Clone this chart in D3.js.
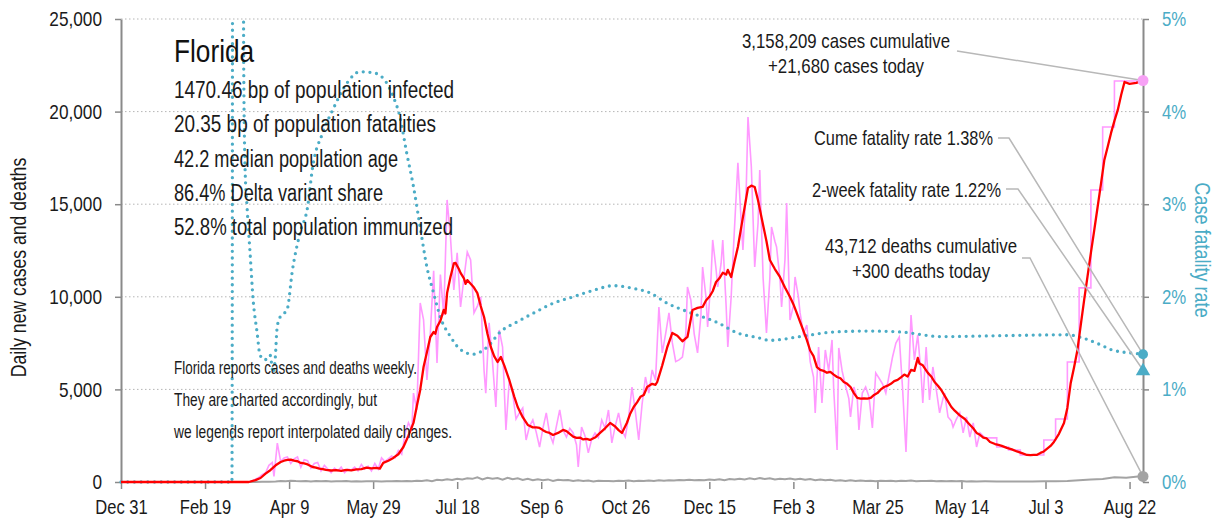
<!DOCTYPE html>
<html>
<head>
<meta charset="utf-8">
<script src="https://cdn.jsdelivr.net/npm/d3@7"></script>
<style>
body { margin: 0; background: #fff; }
svg text { font-family: "Liberation Sans", Arial, sans-serif; }
</style>
</head>
<body>
<svg width="1214" height="523"></svg>
<script>
// days are counted from Dec 31 2019
var t0 = Date.UTC(2019, 11, 31);
function day(d) { return new Date(t0 + d * 864e5); }

var tickDates = ["2019-12-31", "2020-02-19", "2020-04-09", "2020-05-29", "2020-07-18", "2020-09-06",
	"2020-10-26", "2020-12-15", "2021-02-03", "2021-03-25", "2021-05-14", "2021-07-03", "2021-08-22"];
var caseTicks = [0, 5000, 10000, 15000, 20000, 25000];
var cfrTicks = [0, 0.01, 0.02, 0.03, 0.04, 0.05];
var lastDay = 608;

// daily new cases (reported daily until late May 2021)
var casesDaily = [[0,0],[48,0],[76,0],[78,60],[80,150],[82,250],[84,400],[86,500],[88,900],[90,1050],[91,300],[93,2100],[95,1100],[97,1300],[99,1350],[101,1000],[103,1250],[105,1350],[107,800],[109,1200],[111,1150],[113,750],[115,1000],[117,1050],[119,600],[121,900],[123,700],[125,500],[127,750],[129,600],[131,800],[133,500],[135,700],[137,650],[139,800],[141,600],[143,950],[145,700],[147,850],[149,600],[151,1000],[153,700],[155,1300],[157,1100],[159,1250],[161,1400],[163,1300],[165,1700],[167,1500],[169,2600],[171,3200],[173,2800],[174,4800],[176,3900],[178,9670],[180,8750],[182,5510],[184,8000],[186,11400],[188,6430],[190,11200],[192,9000],[194,15230],[196,13230],[198,10370],[200,12370],[202,9450],[204,11000],[206,12420],[208,11990],[210,9130],[212,9500],[214,9990],[216,6000],[217,4800],[219,8590],[221,6500],[223,4050],[225,8210],[227,7290],[229,2810],[231,5500],[233,4800],[235,3400],[237,3730],[239,4000],[241,2270],[243,3000],[245,3350],[247,2700],[249,1890],[251,2900],[253,3730],[255,2600],[257,2110],[259,3000],[261,3890],[263,2800],[265,2430],[267,2900],[269,2650],[271,2000],[272,810],[274,2970],[276,2500],[278,1570],[280,2300],[282,2650],[284,2400],[286,3350],[288,2900],[290,3890],[292,2110],[294,3000],[296,3730],[298,2800],[300,2430],[302,3500],[304,5130],[306,3800],[308,2270],[310,4200],[312,5670],[314,4800],[316,6050],[318,5500],[320,9450],[322,6970],[324,8000],[326,9130],[328,7510],[330,6500],[332,6590],[334,6750],[336,8000],[337,10530],[339,9830],[341,8000],[343,6970],[345,9000],[346,11610],[348,10000],[349,8370],[351,11000],[352,13070],[354,11500],[355,10530],[357,11800],[358,13070],[360,9500],[361,7290],[363,10000],[364,11990],[366,15500],[367,17230],[369,14000],[370,12530],[372,16000],[373,19710],[375,17010],[377,11610],[379,14000],[380,16850],[382,11000],[384,8050],[386,11000],[387,13770],[389,13000],[390,12690],[392,11000],[393,9450],[395,12000],[396,15070],[398,8750],[400,9500],[401,11070],[403,10000],[404,9130],[406,8000],[408,8480],[410,6500],[412,5670],[413,3730],[415,7290],[417,4270],[419,7130],[421,6000],[423,7670],[424,5000],[426,1730],[427,7240],[429,6000],[431,5200],[433,4500],[434,3510],[436,5130],[438,4500],[439,2810],[441,4800],[443,5130],[445,4600],[447,2920],[449,5890],[451,5600],[453,5300],[455,4800],[457,5780],[459,6750],[461,7500],[463,7830],[465,5000],[467,1620],[470,9020],[472,6590],[474,7940],[476,5800],[477,4270],[479,7290],[481,4430],[483,6210],[485,5000],[487,3730],[489,4500],[490,4800],[492,3510],[494,3300],[495,2970],[497,3400],[499,3730],[501,2650],[503,3510],[505,2430],[507,3190],[509,1890],[511,2650],[514,2380]];

// weekly reporting, spread evenly over each week
var casesWeekly = [[514,2380],[521,1890],[528,1730],[535,1460],[542,1460],[549,2270],[556,3400],[563,6480],[570,10480],[577,15770],[584,19170],[591,21650],[598,21650],[605,21650],[608,21650]];

// 7-day average of new cases
var casesAvg = [[0,0],[48,0],[76,0],[80,100],[83,216],[86,450],[89,650],[92,900],[95,1080],[97,1150],[99,1190],[101,1210],[103,1150],[105,1120],[107,1030],[109,1000],[111,950],[114,810],[116,780],[118,720],[120,700],[122,650],[125,620],[128,640],[131,600],[134,650],[137,630],[140,680],[143,700],[146,780],[149,740],[152,760],[154,720],[156,1030],[159,1150],[162,1300],[165,1500],[168,1890],[171,2500],[174,3190],[176,4100],[178,4970],[180,6210],[182,7000],[184,7830],[186,8100],[187,8000],[188,8370],[190,8700],[192,9290],[193,9100],[194,10200],[196,11070],[198,11800],[199,11830],[201,11500],[202,11290],[204,11000],[205,10700],[206,10900],[208,10700],[210,10500],[212,10200],[214,9500],[216,8910],[218,8000],[220,7290],[222,6800],[224,6480],[226,6750],[228,6300],[231,5510],[234,4600],[236,4050],[239,3500],[242,3080],[245,2950],[247,2950],[249,2920],[251,2800],[253,2700],[255,2650],[257,2540],[260,2650],[263,2810],[265,2750],[267,2600],[269,2450],[271,2380],[273,2400],[275,2300],[277,2330],[279,2270],[282,2400],[285,2650],[288,2900],[291,3190],[294,3000],[296,2800],[298,2650],[301,3200],[303,3700],[305,4050],[307,4300],[309,4600],[311,4700],[313,5130],[316,5300],[318,5250],[319,5400],[322,6300],[325,7290],[328,8050],[331,7900],[334,7600],[337,7830],[340,9290],[343,9400],[346,9450],[348,9800],[350,10000],[352,10300],[354,10800],[356,11000],[358,11300],[360,11200],[361,11450],[363,11070],[365,11900],[367,12690],[370,14300],[373,15880],[375,16000],[377,15930],[379,15200],[381,14310],[384,13000],[386,11990],[389,11500],[392,11070],[395,10500],[398,9990],[400,9600],[402,9130],[405,8400],[408,7670],[410,7100],[412,6800],[414,6200],[416,6050],[418,6000],[420,5900],[422,5950],[424,5800],[426,5670],[428,5600],[430,5400],[432,5300],[434,5130],[436,4800],[438,4540],[440,4500],[442,4520],[444,4500],[446,4540],[448,4700],[450,4800],[452,5000],[454,5130],[456,5200],[458,5300],[460,5450],[462,5510],[464,5650],[466,5800],[468,5700],[470,6050],[472,6000],[474,6700],[475,6400],[477,6300],[480,5890],[482,5700],[484,5400],[486,5200],[488,4970],[491,4500],[494,4050],[496,3850],[499,3600],[502,3400],[504,3190],[507,2900],[509,2650],[511,2550],[513,2400],[515,2350],[517,2160],[520,2050],[522,2000],[524,1950],[527,1840],[530,1760],[533,1650],[536,1560],[539,1460],[541,1450],[543,1460],[545,1470],[547,1570],[549,1650],[551,1800],[553,1950],[555,2160],[558,2600],[561,3190],[563,4000],[565,5350],[567,6200],[569,7130],[571,8500],[573,9830],[575,11100],[577,12370],[579,13600],[581,14850],[583,16100],[585,17390],[587,18100],[589,18850],[591,19500],[593,20090],[595,20900],[597,21600],[600,21500],[604,21550],[608,21680]];

// daily new deaths
var deathsDaily = [[0,0],[70,0],[76,2],[80,5],[84,10],[88,20],[92,30],[95,60],[98,40],[101,70],[104,50],[107,45],[110,60],[113,30],[116,50],[119,40],[122,60],[125,30],[128,45],[131,40],[134,50],[137,25],[140,45],[143,30],[146,40],[149,35],[152,45],[155,30],[158,45],[161,40],[164,50],[167,35],[170,60],[173,45],[176,70],[179,60],[182,90],[185,40],[188,120],[191,100],[194,150],[197,110],[200,180],[203,140],[206,200],[209,170],[212,250],[215,140],[218,230],[221,180],[224,210],[227,120],[230,230],[233,150],[236,200],[239,110],[242,170],[245,90],[248,150],[251,100],[254,140],[257,60],[260,120],[263,90],[266,110],[269,50],[272,90],[275,60],[278,80],[281,30],[284,70],[287,50],[290,60],[293,40],[296,70],[299,50],[302,80],[305,40],[308,70],[311,50],[314,80],[317,60],[320,90],[323,70],[326,100],[329,80],[332,110],[335,90],[338,120],[341,90],[344,110],[347,100],[350,140],[353,110],[356,150],[359,90],[362,160],[365,130],[368,180],[371,140],[374,200],[377,150],[380,210],[383,160],[386,200],[389,140],[392,180],[395,150],[398,190],[401,130],[404,170],[407,120],[410,160],[413,100],[416,140],[419,90],[422,120],[425,70],[428,100],[431,60],[434,90],[437,50],[440,80],[443,50],[446,70],[449,40],[452,70],[455,50],[458,70],[461,40],[464,70],[467,50],[470,80],[473,40],[476,60],[479,50],[482,70],[485,40],[488,60],[491,40],[494,55],[497,35],[500,50],[503,30],[506,45],[509,30],[514,35],[521,30],[528,28],[535,25],[542,30],[549,35],[556,45],[563,60],[570,90],[577,130],[584,160],[591,250],[598,230],[605,300],[608,300]];

// two-week case fatality rate
var cfrRate = [[0,0],[66,0],[67,0.2],[72,0.2],[73,0.045],[73.8,0.034],[75,0.0297],[76.8,0.0247],[78.6,0.0197],[81,0.0161],[82.7,0.0137],[85.7,0.0132],[88.7,0.0137],[90.5,0.0118],[91.7,0.0132],[92.9,0.0167],[94.6,0.0178],[98.8,0.0186],[102,0.0229],[106.5,0.0269],[111,0.0297],[114,0.034],[120,0.0377],[126,0.0402],[134.5,0.0431],[142,0.0443],[150,0.0442],[156,0.0436],[162,0.0416],[166,0.0394],[170,0.0355],[174,0.0319],[178,0.0275],[182,0.0232],[186,0.0204],[190,0.0178],[196,0.0157],[202,0.0143],[209.5,0.0138],[218,0.0146],[225.6,0.0162],[235.7,0.0173],[245,0.0182],[257,0.0193],[269,0.02],[281,0.0207],[293,0.0212],[305,0.0209],[315,0.0204],[325,0.0193],[337,0.0184],[355,0.0172],[366.7,0.0161],[378.6,0.0156],[386,0.0153],[404,0.0157],[424,0.0162],[444,0.0163],[464,0.0162],[488,0.0157],[523,0.0158],[563,0.0159],[573,0.0155],[583,0.0148],[589,0.0143],[602.5,0.0139],[608,0.0138]];

var latest = {cases: 21680, cfrCume: 0.0138, cfr2wk: 0.0122, deaths: 300};

var infoTitle = "Florida";
var infoLines = ["1470.46 bp of population infected", "20.35 bp of population fatalities",
	"42.2 median population age", "86.4% Delta variant share", "52.8% total population immunized"];
var infoWidths = [280, 262, 224, 209, 279];
var noteLines = ["Florida reports cases and deaths weekly.", "They are charted accordingly, but",
	"we legends report interpolated daily changes."];
var noteWidths = [243, 203, 278];

// squeeze text horizontally to look like a narrow face
var SQ = 0.82;
function narrow(sel) {
	sel.each(function() {
		var t = d3.select(this),
			tx = +(t.attr("x") || 0),
			tr = t.attr("transform") || "";
		t.attr("x", tx / SQ).attr("transform", tr + " scale(" + SQ + ",1)");
	});
}

var svg = d3.select("svg"),
	margin = {top: 19, right: 71, bottom: 41, left: 121},
	width = +svg.attr("width") - margin.left - margin.right,
	height = +svg.attr("height") - margin.top - margin.bottom;

var x = d3.scaleUtc().domain([day(0), day(lastDay)]).range([0, width]),
	y = d3.scaleLinear().domain([0, 25000]).range([height, 0]),
	yR = d3.scaleLinear().domain([0, 0.05]).range([height, 0]);

var g = svg.append("g").attr("transform", "translate(" + margin.left + "," + margin.top + ")");

// grid
g.selectAll(".grid").data(caseTicks.slice(1)).enter().append("line")
	.attr("x1", 0).attr("x2", width)
	.attr("y1", function(d) { return y(d); }).attr("y2", function(d) { return y(d); })
	.attr("stroke", "#b5b5b5").attr("stroke-width", 1).attr("stroke-dasharray", "1.5,2.5");

// axes
var parseDay = d3.utcParse("%Y-%m-%d");
var gx = g.append("g")
	.attr("transform", "translate(0," + height + ")")
	.call(d3.axisBottom(x).tickValues(tickDates.map(parseDay)).tickFormat(d3.utcFormat("%b %-d")).tickSize(7).tickPadding(11));
gx.select(".domain").remove();

var gy = g.append("g")
	.call(d3.axisLeft(y).tickValues(caseTicks).tickFormat(d3.format(",")).tickSize(6).tickSizeOuter(0).tickPadding(13));

var gr = g.append("g")
	.attr("transform", "translate(" + width + ",0)")
	.call(d3.axisRight(yR).tickValues(cfrTicks).tickFormat(d3.format(".0%")).tickSize(6).tickSizeOuter(0).tickPadding(13));

[gx, gy, gr].forEach(function(a) {
	a.selectAll("line").attr("stroke", "#8a8a8a").attr("stroke-width", 1.5);
	a.selectAll(".domain").attr("stroke", "#8a8a8a").attr("stroke-width", 2);
	a.selectAll("text").attr("font-size", 21).attr("fill", "#1a1a1a").call(narrow);
});
gx.selectAll("text").attr("font-size", 20.2);
gr.selectAll("text").attr("fill", "#4bacc6").attr("font-size", 20.5);

svg.append("text")
	.attr("transform", "translate(26,267.5) rotate(-90)")
	.attr("text-anchor", "middle").attr("font-size", 21.5).attr("fill", "#1a1a1a")
	.text("Daily new cases and deaths").call(narrow);
svg.append("text")
	.attr("transform", "translate(1195,250) rotate(90)")
	.attr("text-anchor", "middle").attr("font-size", 22).attr("fill", "#4bacc6")
	.text("Case fatality rate").call(narrow);

// text block
svg.append("text").attr("x", 174).attr("y", 62).attr("font-size", 32).attr("fill", "#111")
	.text(infoTitle).call(narrow);
svg.selectAll(".info").data(infoLines).enter().append("text")
	.attr("x", 174).attr("y", function(d, i) { return 98 + i * 34.25; })
	.attr("font-size", 23).attr("fill", "#1a1a1a")
	.attr("textLength", function(d, i) { return infoWidths[i]; }).attr("lengthAdjust", "spacingAndGlyphs")
	.text(function(d) { return d; });
svg.selectAll(".note").data(noteLines).enter().append("text")
	.attr("x", 174).attr("y", function(d, i) { return 374 + i * 32; })
	.attr("font-size", 17.5).attr("fill", "#1a1a1a")
	.attr("textLength", function(d, i) { return noteWidths[i]; }).attr("lengthAdjust", "spacingAndGlyphs")
	.text(function(d) { return d; });

// marks
g.append("clipPath").attr("id", "plot").append("rect")
	.attr("x", -2).attr("y", 0).attr("width", width + 4).attr("height", height + 4);
var marks = g.append("g").attr("clip-path", "url(#plot)");

function lineFor(scale) {
	return d3.line().x(function(d) { return x(day(d[0])); }).y(function(d) { return scale(d[1]); });
}

marks.append("path").datum(casesDaily).attr("d", lineFor(y))
	.attr("fill", "none").attr("stroke", "#ff99ff").attr("stroke-width", 1.6);
marks.append("path").datum(casesWeekly).attr("d", lineFor(y).curve(d3.curveStepAfter))
	.attr("fill", "none").attr("stroke", "#ff99ff").attr("stroke-width", 1.6);
marks.append("path").datum(deathsDaily).attr("d", lineFor(y))
	.attr("fill", "none").attr("stroke", "#a3a3a3").attr("stroke-width", 2);
marks.append("path").datum(cfrRate).attr("d", lineFor(yR).curve(d3.curveMonotoneX))
	.attr("fill", "none").attr("stroke", "#4bacc6").attr("stroke-width", 3.3)
	.attr("stroke-dasharray", "0,6.7").attr("stroke-linecap", "round");
marks.append("path").datum(casesAvg).attr("d", lineFor(y))
	.attr("fill", "none").attr("stroke", "#ff0000").attr("stroke-width", 2.3).attr("stroke-linejoin", "round");

// end markers and labels
var xe = x(day(lastDay));
var ends = [
	{y: y(latest.cases), lines: ["3,158,209 cases cumulative", "+21,680 cases today"], widths: [208, 156],
		tx: 846 - margin.left, ty: 48 - margin.top, anchor: "middle", from: [957 - margin.left, 51 - margin.top], elbow: null},
	{y: yR(latest.cfrCume), lines: ["Cume fatality rate 1.38%"], widths: [179],
		tx: 993 - margin.left, ty: 145 - margin.top, anchor: "end", from: [998 - margin.left, 138 - margin.top], elbow: 1009 - margin.left},
	{y: yR(latest.cfr2wk) + 1, lines: ["2-week fatality rate 1.22%"], widths: [189],
		tx: 1001 - margin.left, ty: 197 - margin.top, anchor: "end", from: [1006 - margin.left, 189 - margin.top], elbow: 1018 - margin.left},
	{y: y(latest.deaths), lines: ["43,712 deaths cumulative", "+300 deaths today"], widths: [192, 138],
		tx: 921 - margin.left, ty: 253 - margin.top, anchor: "middle", from: [1022 - margin.left, 258 - margin.top], elbow: 1030 - margin.left}
];

ends.forEach(function(e) {
	var pts = [e.from];
	if (e.elbow != null) pts.push([e.elbow, e.from[1]]);
	pts.push([xe, e.y]);
	g.append("path").attr("d", d3.line()(pts))
		.attr("fill", "none").attr("stroke", "#b8b8b8").attr("stroke-width", 1.5);
	e.lines.forEach(function(t, i) {
		g.append("text").attr("x", e.tx).attr("y", e.ty + i * 25)
			.attr("text-anchor", e.anchor).attr("font-size", 21).attr("fill", "#1a1a1a")
			.attr("textLength", e.widths[i]).attr("lengthAdjust", "spacingAndGlyphs")
			.text(t);
	});
});

g.append("circle").attr("cx", xe).attr("cy", y(latest.cases)).attr("r", 5.5).attr("fill", "#f7a1f5");
g.append("circle").attr("cx", xe).attr("cy", yR(latest.cfrCume)).attr("r", 5).attr("fill", "#4bacc6");
g.append("path").attr("d", d3.symbol(d3.symbolTriangle, 90)())
	.attr("transform", "translate(" + xe + "," + (yR(latest.cfr2wk) + 2) + ")").attr("fill", "#4bacc6");
g.append("circle").attr("cx", xe).attr("cy", y(latest.deaths)).attr("r", 5.5).attr("fill", "#a3a3a3");
</script>
</body>
</html>
